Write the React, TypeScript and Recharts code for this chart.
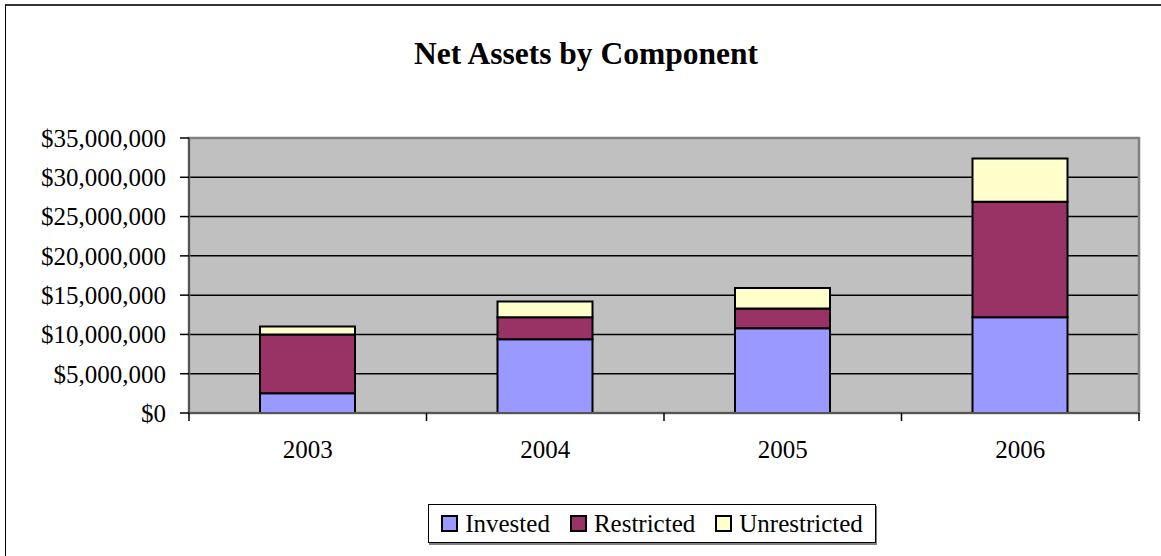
import { Bar, BarChart, CartesianGrid, Legend, ReferenceArea, XAxis, YAxis } from "recharts";

const years = ["2003", "2004", "2005", "2006"];
const invested = [2500000, 9400000, 10800000, 12200000];
const restricted = [7500000, 2800000, 2500000, 14700000];
const unrestricted = [1000000, 2000000, 2600000, 5500000];
const yTicks = [0, 5000000, 10000000, 15000000, 20000000, 25000000, 30000000, 35000000];

const series = [
  { key: "invested", name: "Invested", color: "#9999FF" },
  { key: "restricted", name: "Restricted", color: "#993366" },
  { key: "unrestricted", name: "Unrestricted", color: "#FFFFCC" },
];

const data = years.map((year, i) => ({
  year,
  invested: invested[i],
  restricted: restricted[i],
  unrestricted: unrestricted[i],
}));

const font = "'Liberation Serif', 'Times New Roman', serif";
const tickStyle = { fontSize: 25, fill: "#000", fontFamily: font };

const fmtUSD = (v: number) => "$" + v.toLocaleString("en-US");

// category label plus the boundary tick marks Excel draws between categories
function YearTick(props: any) {
  const { x, y, payload, index } = props;
  const half = payload?.offset ?? 0;
  const last = index === years.length - 1;
  return (
    <g>
      <line x1={x - half} y1={y} x2={x - half} y2={y + 8} stroke="#000" strokeWidth={1.5} />
      {last ? <line x1={x + half} y1={y} x2={x + half} y2={y + 8} stroke="#000" strokeWidth={1.5} /> : null}
      <text x={x} y={y + 45} textAnchor="middle" {...tickStyle}>
        {payload.value}
      </text>
    </g>
  );
}

function LegendBox() {
  return (
    <div
      style={{
        width: 448,
        height: 39,
        boxSizing: "border-box",
        border: "1px solid #000",
        boxShadow: "1px 2px 0 #808080",
        background: "#fff",
        display: "flex",
        alignItems: "center",
        justifyContent: "center",
        gap: 20,
        fontFamily: font,
        fontSize: 25,
        color: "#000",
      }}
    >
      {series.map((s) => (
        <span key={s.key} style={{ display: "flex", alignItems: "center" }}>
          <span
            style={{
              width: 17,
              height: 17,
              boxSizing: "border-box",
              background: s.color,
              border: "2px solid #000",
              marginRight: 7,
            }}
          />
          {s.name}
        </span>
      ))}
    </div>
  );
}

export default function App() {
  return (
    <div style={{ position: "relative", width: 1161, height: 556, overflow: "hidden", background: "#fff" }}>
      <style>{`body{margin:0}`}</style>
      <div
        style={{
          position: "absolute",
          left: 5,
          top: 4,
          width: 1300,
          height: 700,
          borderTop: "2px solid #333",
          borderLeft: "1px solid #000",
        }}
      />
      <div
        style={{
          position: "absolute",
          top: 36,
          left: 0,
          width: 1172,
          textAlign: "center",
          fontFamily: font,
          fontWeight: "bold",
          fontSize: 31.5,
          color: "#000",
        }}
      >
        Net Assets by Component
      </div>
      <BarChart
        width={1161}
        height={556}
        data={data}
        margin={{ top: 138, right: 22, left: 0, bottom: 95 }}
        style={{ position: "absolute", left: 0, top: 0 }}
      >
        <CartesianGrid fill="#C0C0C0" stroke="#000" strokeWidth={1.5} vertical={false} />
        <XAxis
          dataKey="year"
          height={48}
          axisLine={{ stroke: "#555", strokeWidth: 2 }}
          tickLine={false}
          tickSize={0}
          tickMargin={0}
          interval={0}
          tick={<YearTick />}
        />
        <YAxis
          width={189}
          domain={[0, 35000000]}
          ticks={yTicks}
          interval={0}
          tickSize={9}
          tickMargin={14}
          tick={tickStyle}
          tickFormatter={fmtUSD}
          axisLine={{ stroke: "#555", strokeWidth: 2 }}
          tickLine={{ stroke: "#000", strokeWidth: 1.5 }}
        />
        <ReferenceArea
          x1="2003"
          x2="2006"
          y1={0}
          y2={35000000}
          fill="none"
          stroke="#808080"
          strokeWidth={2.5}
          ifOverflow="visible"
        />
        {series.map((s) => (
          <Bar
            key={s.key}
            dataKey={s.key}
            name={s.name}
            stackId="a"
            fill={s.color}
            stroke="#000"
            strokeWidth={2}
            barSize={95}
            isAnimationActive={false}
          />
        ))}
        <Legend
          layout="horizontal"
          verticalAlign="middle"
          align="center"
          content={() => <LegendBox />}
          wrapperStyle={{ left: 428, top: 504, width: 448 }}
        />
      </BarChart>
    </div>
  );
}
